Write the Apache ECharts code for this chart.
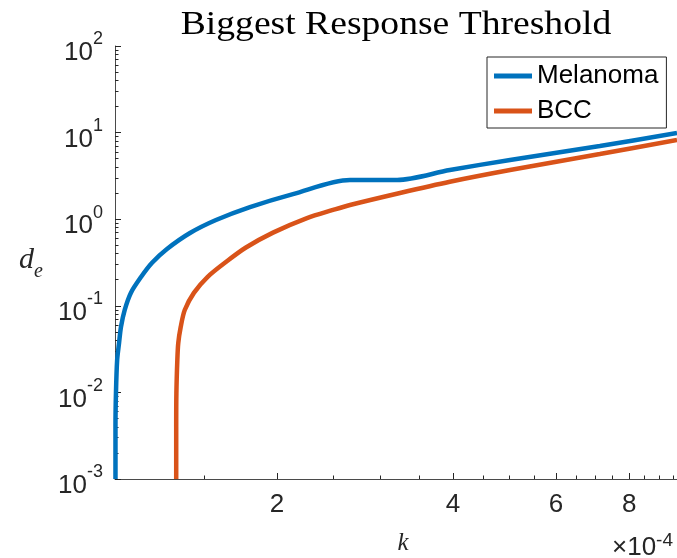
<!DOCTYPE html>
<html>
<head>
<meta charset="utf-8">
<script src="https://cdn.jsdelivr.net/npm/echarts@6/dist/echarts.min.js"></script>
<style>
  html, body { margin: 0; padding: 0; background: #fff; }
  #chart { width: 677px; height: 558px; }
</style>
</head>
<body>
<div id="chart"></div>
<script>
// k 的单位是 1e-4（对应坐标轴上的 ×10^-4）
var kMelanoma = [1.059, 1.059, 1.061, 1.066, 1.074, 1.082, 1.098, 1.125, 1.171, 1.222, 1.297, 1.420, 1.573, 1.798, 2.13, 2.666, 3.209, 3.95, 5.006, 7.13, 9.66];
var dMelanoma = [0.001, 0.004, 0.0098, 0.0237, 0.0372, 0.0569, 0.0894, 0.141, 0.215, 0.312, 0.453, 0.693, 0.979, 1.38, 1.95, 2.84, 2.84, 3.70, 4.83, 7.00, 9.89];

var kBCC = [1.345, 1.345, 1.346, 1.351, 1.356, 1.369, 1.391, 1.442, 1.521, 1.644, 1.770, 1.969, 2.251, 2.494, 2.666, 3.246, 3.95, 5.006, 7.13, 9.66];
var dBCC = [0.001, 0.004, 0.0098, 0.0237, 0.0372, 0.0569, 0.0894, 0.141, 0.215, 0.329, 0.471, 0.700, 1.03, 1.28, 1.46, 2.01, 2.71, 3.70, 5.66, 8.21];

var seriesNames = ['Melanoma', 'BCC'];

// 刻度
var xMajorTicks = [2, 4, 6, 8];
var xMinorTicks = [1.5, 2.5, 3, 3.5, 4.5, 5, 5.5, 6.5, 7, 7.5, 8.5, 9, 9.5];
var yExponents = [-3, -2, -1, 0, 1, 2];
var yMinorFactors = [2, 3, 4, 5, 6, 7, 8, 9];

var xMin = 1.057, xMax = 9.66;
var yMin = 1e-3, yMax = 1e2;

var lg = Math.log10;
var sans = 'Liberation Sans';
var serif = 'Liberation Serif';
var axisColor = '#262626';
var lineColor = '#4a4a4a';

var yMinorTicks = [];
yExponents.forEach(function(e) {
    if (e >= 2) return;
    yMinorFactors.forEach(function(f) { yMinorTicks.push(e + lg(f)); });
});

function pairs(ks, ds) {
    return ks.map(function(k, i) { return [k, ds[i]]; });
}

var chart = echarts.init(document.getElementById('chart'));

var hidden = { show: false };

var option = {
    animation: false,
    grid: { left: 115, right: 0, top: 46, bottom: 79, containLabel: false, outerBoundsMode: 'none' },
    graphic: [
        {
            type: 'text', x: 396, y: 25, scaleX: 1.14,
            style: { text: 'Biggest Response Threshold', font: '33px "' + serif + '"', fill: '#000', align: 'center', verticalAlign: 'middle' }
        },
        {
            type: 'text', x: 403, y: 543,
            style: { text: 'k', font: 'italic 25px "' + serif + '"', fill: axisColor, align: 'center', verticalAlign: 'middle' }
        },
        {
            type: 'text', x: 19, y: 245,
            style: {
                text: '{d|d}{e|e}', fill: axisColor,
                rich: {
                    d: { fontFamily: serif, fontStyle: 'italic', fontSize: 30, verticalAlign: 'top' },
                    e: { fontFamily: serif, fontStyle: 'italic', fontSize: 20, verticalAlign: 'bottom', lineHeight: 37 }
                }
            }
        },
        {
            type: 'text', x: 612, y: 528,
            style: {
                text: '{a|×10}{s|-4}', fill: axisColor,
                rich: {
                    a: { fontFamily: sans, fontSize: 26, verticalAlign: 'bottom', lineHeight: 33 },
                    s: { fontFamily: sans, fontSize: 19, verticalAlign: 'top', height: 25 }
                }
            }
        }
    ],
    legend: {
        orient: 'vertical',
        left: 487, top: 57,
        data: seriesNames,
        icon: 'rect',
        itemWidth: 38, itemHeight: 5, itemGap: 9,
        padding: [6, 8, 4, 7],
        borderColor: axisColor, borderWidth: 1,
        backgroundColor: '#fff',
        textStyle: { fontFamily: sans, fontSize: 26, color: '#000' }
    },
    xAxis: [
        {
            type: 'log', logBase: 10, min: xMin, max: xMax,
            axisLine: { show: true, onZero: false, lineStyle: { color: lineColor, width: 1 } },
            axisTick: hidden, axisLabel: hidden, splitLine: hidden, minorTick: hidden
        },
        {
            type: 'value', min: lg(xMin), max: lg(xMax), position: 'bottom',
            axisLine: { show: false, onZero: false },
            axisTick: { show: true, inside: true, length: 6, customValues: xMajorTicks.map(lg), lineStyle: { color: axisColor } },
            axisLabel: {
                customValues: xMajorTicks.map(lg), margin: 13,
                fontFamily: sans, fontSize: 26, color: axisColor,
                formatter: function(v) { return String(Math.round(Math.pow(10, v))); }
            },
            splitLine: hidden
        },
        {
            type: 'value', min: lg(xMin), max: lg(xMax), position: 'bottom',
            axisLine: { show: false, onZero: false },
            axisTick: { show: true, inside: true, length: 3.5, customValues: xMinorTicks.map(lg), lineStyle: { color: axisColor } },
            axisLabel: hidden, splitLine: hidden
        }
    ],
    yAxis: [
        {
            type: 'log', logBase: 10, min: yMin, max: yMax,
            axisLine: { show: true, onZero: false, lineStyle: { color: lineColor, width: 1 } },
            axisTick: hidden, axisLabel: hidden, splitLine: hidden, minorTick: hidden
        },
        {
            type: 'value', min: lg(yMin), max: lg(yMax), position: 'left',
            axisLine: { show: false, onZero: false },
            axisTick: { show: true, inside: true, length: 6, customValues: yExponents, lineStyle: { color: axisColor } },
            axisLabel: {
                customValues: yExponents, margin: 12,
                formatter: function(v) { return '{b|10}{s|' + v + '}'; },
                rich: {
                    b: { fontFamily: sans, fontSize: 26, color: axisColor, verticalAlign: 'bottom', lineHeight: 40 },
                    s: { fontFamily: sans, fontSize: 18, color: axisColor, verticalAlign: 'top', height: 27 }
                }
            },
            splitLine: hidden
        },
        {
            type: 'value', min: lg(yMin), max: lg(yMax), position: 'left',
            axisLine: { show: false, onZero: false },
            axisTick: { show: true, inside: true, length: 3.5, customValues: yMinorTicks, lineStyle: { color: axisColor } },
            axisLabel: hidden, splitLine: hidden
        }
    ],
    series: [
        {
            name: seriesNames[0], type: 'line', xAxisIndex: 0, yAxisIndex: 0,
            data: pairs(kMelanoma, dMelanoma),
            showSymbol: false, clip: false, smooth: 0.3,
            lineStyle: { color: '#0072BD', width: 4.5 },
            itemStyle: { color: '#0072BD' }
        },
        {
            name: seriesNames[1], type: 'line', xAxisIndex: 0, yAxisIndex: 0,
            data: pairs(kBCC, dBCC),
            showSymbol: false, clip: false, smooth: 0.3,
            lineStyle: { color: '#D95319', width: 4.5 },
            itemStyle: { color: '#D95319' }
        }
    ]
};

chart.setOption(option);

window.addEventListener('resize', function() {
    chart.resize();
});
</script>
</body>
</html>
